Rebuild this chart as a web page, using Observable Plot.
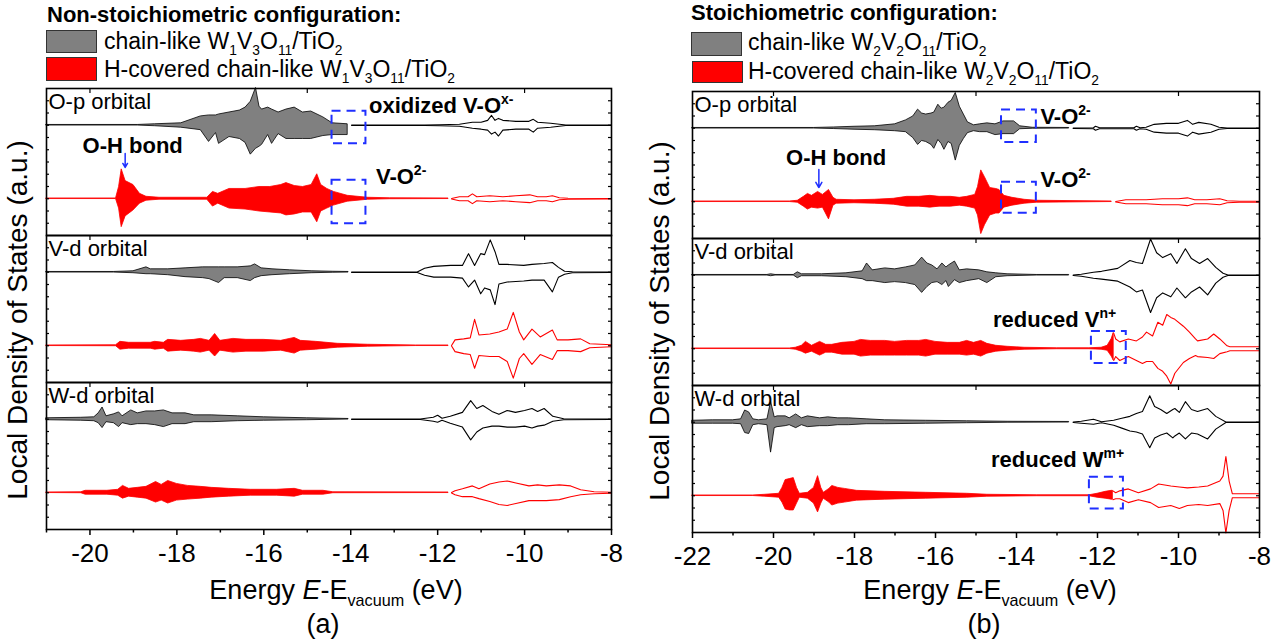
<!DOCTYPE html>
<html><head><meta charset="utf-8">
<script src="https://cdn.jsdelivr.net/npm/d3@7"></script>
<script src="https://cdn.jsdelivr.net/npm/@observablehq/plot@0.6"></script>
<style>
body{margin:0;background:#fff;font-family:"Liberation Sans",Arial,sans-serif;}
#root{position:relative;width:1281px;height:644px;overflow:hidden;background:#fff;}
#root svg{position:absolute;top:0;overflow:visible;}
.abs{position:absolute;white-space:nowrap;color:#000;line-height:1;}
.ttl{font-size:22px;font-weight:bold;}
.leg{font-size:23px;line-height:0.8;}
.sb{font-size:0.6em;position:relative;top:0.42em;line-height:0.8;}
.sw{position:absolute;box-sizing:border-box;border:1px solid #333;}
.ax{font-size:27px;line-height:0.9;}
.yt{font-size:28px;transform:translate(-50%,-50%) rotate(-90deg);}
</style></head>
<body><div id="root"></div>
<script>
// ---------- categories ----------
const orbitals = ["O-p", "V-d", "W-d"];
const orbitalLabels = ["O-p orbital", "V-d orbital", "W-d orbital"];
const xMajorA = [-20, -18, -16, -14, -12, -10, -8];
const xMinorA = [-21, -19, -17, -15, -13, -11, -9];
const xMajorB = [-22, -20, -18, -16, -14, -12, -10, -8];
const xMinorB = [-21, -19, -17, -15, -13, -11, -9];
const topTicks = [-20, -15, -10];
const yTickVals = [-62.5, -50, -37.5, -25, -12.5, 0, 12.5, 25, 37.5, 50, 62.5];

// ---------- panel (a): [E, spin-up, spin-down] ----------
const aOpGrayOcc = [[-21,0.3,0.3],[-18.9,0.3,0.3],[-18.5,1,1],[-17.9,2,2.5],[-17.45,9,5],[-17.26,10,17],[-17.1,10,8],[-17.03,11,19],[-16.79,13,12],[-16.55,15,14],[-16.42,18,18],[-16.3,24,30],[-16.18,38,24],[-16.1,19,22],[-16.04,16,20],[-15.9,18,10],[-15.81,16,19],[-15.66,13,9],[-15.48,16,14],[-15.29,18,14],[-15.1,13,14],[-14.91,14,14],[-14.63,8,11],[-14.42,2,10],[-14.07,1,10]];
const aOpGrayUnocc = [[-13.98,0.3,0.3],[-12.3,0.3,0.3],[-11.95,0.5,0.5],[-11.5,1,1],[-11.2,3,3],[-11.0,3,4],[-10.85,5,5],[-10.76,10,9],[-10.68,5,7],[-10.6,7,11],[-10.5,5,5],[-10.2,4,4],[-9.9,4,4],[-9.8,6,7],[-9.7,3,3],[-9.4,2,2],[-9.05,0.3,0.3],[-8,0.3,0.3]];
const aOpRedOcc = [[-21,0.3,0.3],[-19.4,0.3,0.3],[-19.33,12,10],[-19.27,30,29],[-19.18,18,18],[-19.0,14,12],[-18.85,5,5],[-18.7,2,2],[-18.4,1,1],[-17.3,1,1],[-17.17,7,8],[-17.05,5,5],[-16.79,10,10],[-16.42,10,11],[-16.1,12,13],[-15.85,12,14],[-15.6,14,15],[-15.48,16,17],[-15.29,13,16],[-15.1,12,14],[-14.9,14,14],[-14.77,25,24],[-14.68,14,13],[-14.54,10,10],[-14.39,7,7],[-14.07,3,3],[-13.6,1,1],[-13.1,0.5,0.5],[-11.75,0.3,0.3]];
const aOpRedUnocc = [[-11.68,0.3,0.3],[-11.5,2,2],[-11.3,2,2],[-11.2,5,5],[-11.1,2,2],[-10.8,3,3],[-10.5,2,2],[-10.2,3,3],[-9.88,4,4],[-9.7,2,2],[-9.5,2,2],[-9.36,3,3],[-9.2,1,1],[-9,0.5,0.5],[-8,0.3,0.3]];
const aVdGrayOcc = [[-21,0.3,0.3],[-19.45,0.3,0.3],[-19.0,1,1],[-18.7,5,2],[-18.6,3,2],[-18.2,3,3],[-17.8,4,5],[-17.4,5,6],[-17.25,5,7],[-17.03,5,11],[-16.9,5,6],[-16.6,5,6],[-16.3,6,9],[-16.2,8,6],[-16.05,4,4],[-15.8,3,3],[-15.4,2,2],[-14.9,1,1],[-14.4,0.5,0.5],[-14.05,0.3,0.3]];
const aVdGrayUnocc = [[-13.98,0.3,0.3],[-12.47,0.3,0.3],[-12.3,4,3],[-12.09,6,5],[-11.7,7,5],[-11.43,7,6],[-11.29,19,15],[-11.15,7,8],[-11.01,19,22],[-10.92,18,16],[-10.79,33,18],[-10.68,21,33],[-10.59,8,12],[-10.4,8,10],[-10.02,7,9],[-9.83,8,8],[-9.55,9,8],[-9.36,10,20],[-9.22,5,5],[-9.08,1,2],[-8.9,0.5,0.5],[-8,0.3,0.3]];
const aVdRedOcc = [[-21,0.3,0.3],[-19.4,0.5,0.5],[-19.3,4,4],[-19.1,3,3],[-18.6,3,3],[-18.5,4,4],[-18.3,3,3],[-18.2,6,6],[-17.9,5,5],[-17.6,6,6],[-17.45,7,7],[-17.25,5,5],[-17.12,12,11],[-17.0,5,5],[-16.7,7,7],[-16.4,6,6],[-16.0,6,6],[-15.6,5,5],[-15.29,8,8],[-15.15,5,5],[-14.8,4,4],[-14.3,2,2],[-13.6,1,1],[-12.5,0.3,0.3],[-11.75,0.3,0.3]];
const aVdRedUnocc = [[-11.68,0.3,0.3],[-11.6,6,6],[-11.4,7,8],[-11.25,8,9],[-11.15,27,23],[-11.05,11,10],[-10.8,12,11],[-10.59,14,11],[-10.4,17,16],[-10.26,34,33],[-10.12,14,13],[-10.02,6,8],[-9.83,17,19],[-9.64,9,9],[-9.36,16,14],[-9.25,6,5],[-9.0,6,5],[-8.71,7,6],[-8.5,2,2],[-8,1,1]];
const aWdGrayOcc = [[-21,1,1],[-20.2,1.5,1.5],[-19.9,2,2],[-19.8,6,4],[-19.71,12,9],[-19.62,3,3],[-19.45,5,4],[-19.33,7,8],[-19.25,3,4],[-19.05,9,6],[-18.9,6,5],[-18.7,8,5],[-18.5,8,6],[-18.3,9,8],[-18.1,6,5],[-17.8,6,5],[-17.6,4,3],[-17.2,4,3],[-16.6,3,2],[-16.0,2,1.5],[-15.0,1,1],[-14.05,0.3,0.3]];
const aWdGrayUnocc = [[-13.98,0.3,0.3],[-12.4,0.3,0.3],[-12.1,2,2],[-12.0,4,3],[-11.9,1,1],[-11.71,3,4],[-11.43,7,8],[-11.24,19,21],[-11.1,11,13],[-10.96,14,9],[-10.75,8,7],[-10.59,5,7],[-10.4,9,8],[-10.21,7,8],[-10.0,9,7],[-9.83,11,9],[-9.7,8,7],[-9.55,11,6],[-9.35,3,2],[-9.1,0.5,0.5],[-8,0.3,0.3]];
const aWdRedOcc = [[-21,0.3,0.3],[-20.2,0.5,0.5],[-20.1,2,2],[-19.6,2,2],[-19.35,3,3],[-19.24,7,6],[-19.1,4,4],[-18.9,5,5],[-18.7,6,6],[-18.48,11,10],[-18.35,8,8],[-18.2,12,11],[-18.0,9,8],[-17.75,7,7],[-17.45,6,6],[-17.2,5,5],[-16.8,4,4],[-16.3,3,3],[-15.7,3,3],[-15.29,4,4],[-15.1,2,2],[-14.63,2,2],[-14.4,0.5,0.5],[-11.75,0.3,0.3]];
const aWdRedUnocc = [[-11.68,0.3,0.3],[-11.6,2,2],[-11.43,4,4],[-11.2,7,4],[-11.05,4,6],[-10.8,9,9],[-10.59,11,12],[-10.4,12,13],[-10.2,10,11],[-9.9,7,8],[-9.7,8,8],[-9.5,7,8],[-9.2,8,7],[-8.94,7,4],[-8.71,3,2],[-8.4,1,1],[-8,0.5,0.5]];

// ---------- panel (b): [E, spin-up, spin-down] ----------
const bOpGrayOcc = [[-22,0.3,0.3],[-19,0.3,0.3],[-18.5,0.8,0.8],[-18,1.5,1.5],[-17.5,2,2],[-17,4,3],[-16.73,8,4],[-16.55,12,10],[-16.43,19,17],[-16.33,15,13],[-16.23,14,14],[-16.1,15,17],[-16.03,16,21],[-15.93,24,12],[-15.85,20,16],[-15.78,21,22],[-15.68,26,14],[-15.6,28,16],[-15.5,36,33],[-15.4,22,18],[-15.3,14,11],[-15.2,6,5],[-15.05,3,3],[-14.9,4,4],[-14.72,5,4],[-14.52,4,7],[-14.32,7,6],[-14.06,7,6],[-13.91,2,1],[-13.6,0.5,0.5],[-12.7,0.3,0.3]];
const bOpGrayUnocc = [[-12.6,0.3,0.3],[-12.1,0.5,0.5],[-12.05,2,2],[-11.95,0.5,0.5],[-11.1,0.5,0.5],[-11.04,2,2],[-10.95,0.5,0.5],[-10.8,1,1],[-10.6,4,4],[-10.3,5,5],[-10,5,5],[-9.78,8,8],[-9.65,4,4],[-9.5,6,6],[-9.2,4,4],[-9,1,1],[-8.8,0.3,0.3],[-8,0.3,0.3]];
const bOpRedOcc = [[-22,0.3,0.3],[-19.6,0.3,0.3],[-19.4,1,1],[-19.25,5,5],[-19.15,8,8],[-19.05,6,6],[-18.9,10,7],[-18.78,7,6],[-18.63,12,18],[-18.52,4,4],[-18.44,2,2],[-18,1.5,1.5],[-17.5,2,2],[-17.03,3,3],[-16.7,5,5],[-16.4,5,5],[-16.13,6,6],[-15.9,5,5],[-15.62,5,5],[-15.4,4,4],[-15.22,5,5],[-15.02,7,7],[-14.95,15,14],[-14.87,32,33],[-14.78,25,24],[-14.65,14,14],[-14.5,13,12],[-14.42,12,12],[-14.3,6,6],[-14.1,4,4],[-13.8,2,2],[-13.5,1,1],[-11.65,0.3,0.3]];
const bOpRedUnocc = [[-11.55,0.3,0.3],[-11.3,2,2],[-10.8,2,2],[-10.4,3,3],[-10,3,3],[-9.78,4,4],[-9.6,2,2],[-9.3,2,2],[-8.98,3,3],[-8.8,1,1],[-8.5,0.5,0.5],[-8,0.5,0.5]];
const bVdGrayOcc = [[-22,0.3,0.3],[-20.15,0.3,0.3],[-20.06,1,1],[-19.95,0.3,0.3],[-19.5,0.3,0.3],[-19.4,3,3],[-19.3,1,1],[-18.8,1,1],[-18.2,2,2],[-17.8,4,4],[-17.69,12,6],[-17.55,5,6],[-17.24,7,8],[-17.0,6,7],[-16.73,8,8],[-16.5,10,10],[-16.33,18,18],[-16.2,12,12],[-16.08,10,8],[-15.95,6,7],[-15.83,12,10],[-15.73,8,6],[-15.67,10,12],[-15.52,14,5],[-15.4,5,8],[-15.22,6,6],[-14.92,5,4],[-14.72,3,8],[-14.5,2,2],[-14.22,1,1],[-13.5,0.3,0.3],[-12.7,0.3,0.3]];
const bVdGrayUnocc = [[-12.6,0.3,0.3],[-12.4,1,1],[-12.1,3,3],[-11.9,4,4],[-11.5,7,6],[-11.2,15,12],[-11.04,13,17],[-10.89,12,15],[-10.69,37,38],[-10.54,23,23],[-10.39,18,18],[-10.19,22,22],[-10.04,12,13],[-9.83,27,23],[-9.68,17,17],[-9.48,12,12],[-9.28,17,20],[-9.08,8,8],[-8.9,2,2],[-8.78,0.3,0.3],[-8,0.3,0.3]];
const bVdRedOcc = [[-22,0.3,0.3],[-19.6,0.3,0.3],[-19.45,1,1],[-19.3,3,3],[-19.2,7,5],[-19.05,3,3],[-18.85,7,7],[-18.7,4,4],[-18.55,4,4],[-18.3,6,6],[-18.0,7,6],[-17.84,9,8],[-17.6,8,7],[-17.24,8,7],[-17.0,7,7],[-16.7,8,7],[-16.4,8,7],[-16.23,9,8],[-16.0,7,6],[-15.7,6,6],[-15.4,6,6],[-15.22,8,7],[-15.05,6,6],[-14.87,8,8],[-14.72,5,5],[-14.5,3,3],[-14.22,2,2],[-13.8,1,1],[-13.0,0.5,0.5],[-12.2,0.5,0.5],[-11.9,1,1],[-11.75,3,2],[-11.65,10,8],[-11.6,16,12]];
const bVdRedUnocc = [[-11.6,16,12],[-11.55,10,8],[-11.45,7,12],[-11.24,10,8],[-11.04,8,12],[-10.89,12,15],[-10.79,17,13],[-10.64,13,13],[-10.51,27,20],[-10.39,24,23],[-10.29,35,28],[-10.19,32,36],[-10.09,30,25],[-9.88,23,14],[-9.73,17,10],[-9.58,10,7],[-9.53,8,8],[-9.28,10,9],[-9.13,15,10],[-8.98,10,5],[-8.8,3,3],[-8.73,2,2],[-8,2,2]];
const bWdGrayOcc = [[-22,1.5,1.5],[-21.5,2,1.5],[-21,2,1.5],[-20.8,3,2],[-20.7,12,11],[-20.6,10,12],[-20.5,3,3],[-20.36,2,2],[-20.15,3,3],[-20.06,21,31],[-19.97,5,6],[-19.9,6,5],[-19.7,6,4],[-19.6,4,3],[-19.44,8,6],[-19.3,4,3],[-19.15,6,5],[-18.85,4,4],[-18.65,5,4],[-18.4,4,3],[-18.14,4,3],[-17.7,3,2],[-17.24,2,2],[-16.23,1.5,1.5],[-15.22,1,1],[-14.22,0.5,0.5],[-12.7,0.3,0.3]];
const bWdGrayUnocc = [[-12.6,0.3,0.3],[-12.4,1,1],[-12.1,3,2],[-11.9,0.5,0.5],[-11.6,2,3],[-11.4,4,6],[-11.2,6,9],[-11.04,9,10],[-10.89,11,12],[-10.71,27,26],[-10.59,16,16],[-10.44,13,13],[-10.29,9,11],[-10.14,13,16],[-10.09,14,14],[-9.98,10,11],[-9.83,21,17],[-9.68,13,11],[-9.53,11,12],[-9.28,14,17],[-9.08,6,7],[-8.83,0.3,0.3],[-8,0.3,0.3]];
const bWdRedOcc = [[-22,0.3,0.3],[-20.5,0.3,0.3],[-20.2,1,1],[-19.86,2,2],[-19.78,8,7],[-19.7,16,14],[-19.6,17,15],[-19.5,18,15],[-19.42,8,8],[-19.35,2,2],[-19.15,3,3],[-19.0,8,8],[-18.9,20,17],[-18.82,8,8],[-18.76,3,3],[-18.62,7,7],[-18.55,10,10],[-18.4,8,8],[-18.24,7,7],[-17.94,5,5],[-17.24,4,4],[-16.23,3,3],[-15.22,2,2],[-14.72,1,1],[-13.5,0.5,0.5],[-12.2,0.5,0.5],[-12.0,2,2],[-11.8,4,3],[-11.65,5,4],[-11.62,5,4]];
const bWdRedUnocc = [[-11.62,5,4],[-11.55,3,3],[-11.45,5,3],[-11.24,7,7],[-10.99,3,4],[-10.69,7,7],[-10.49,12,12],[-10.19,10,10],[-9.98,9,13],[-9.78,8,10],[-9.5,9,9],[-9.28,10,10],[-8.98,15,8],[-8.9,20,15],[-8.83,40,38],[-8.75,15,15],[-8.67,2,2],[-8,2,2]];

// ---------- annotations (data coordinates) ----------
const annotA = [
  {orb: "O-p", E: -13.58, y: 57.5, label: "oxidized V-O^{x-}"},
  {orb: "O-p", E: -13.42, y: -14.8, label: "V-O^{2-}"},
  {orb: "O-p", E: -20.17, y: 16.8, label: "O-H bond"}
];
const annotB = [
  {orb: "O-p", E: -13.41, y: 49, label: "V-O^{2-}"},
  {orb: "O-p", E: -13.41, y: -14.8, label: "V-O^{2-}"},
  {orb: "O-p", E: -19.69, y: 7.7, label: "O-H bond"},
  {orb: "V-d", E: -14.58, y: -7.7, label: "reduced V^{n+}"},
  {orb: "W-d", E: -14.63, y: -0.5, label: "reduced W^{m+}"}
];
const boxesA = [
  {orb: "O-p", x1: -14.43, x2: -13.65, y1: 18.5, y2: 51.8},
  {orb: "O-p", x1: -14.43, x2: -13.65, y1: -63.1, y2: -18.5}
];
const boxesB = [
  {orb: "O-p", x1: -14.37, x2: -13.51, y1: 22.9, y2: 56.2},
  {orb: "O-p", x1: -14.37, x2: -13.51, y1: -49.2, y2: -17.5},
  {orb: "V-d", x1: -12.15, x2: -11.29, y1: -52.5, y2: -19.8},
  {orb: "W-d", x1: -12.2, x2: -11.36, y1: -50.9, y2: -18.5}
];
const arrowsA = [{orb: "O-p", E: -19.19, y1: 8.7, y2: -5.6}];
const arrowsB = [{orb: "O-p", E: -18.88, y1: -4.6, y2: -23}];

const BLUE = "#1f2fff";
const GRAY = "#808080";
const RED = "#ff0000";
const baseOf = {gray: 37.5, red: -37.5};

function rows(sets, part) {
  const out = [];
  for (const orb of orbitals) {
    for (const cfg of ["gray", "red"]) {
      const arr = sets[orb][cfg][part];
      const b = baseOf[cfg];
      for (const [E, up, dn] of arr) out.push({orb, cfg, E, hi: b + up, lo: b - dn});
    }
  }
  return out;
}

function panel(opts) {
  const occ = rows(opts.sets, 0), un = rows(opts.sets, 1);
  const g = d => d.cfg === "gray", r = d => d.cfg === "red";
  const labels = orbitals.map((orb, i) => ({orb, label: orbitalLabels[i]}));
  const tickF = () => "";
  return Plot.plot({
    width: 640, height: 644,
    marginLeft: opts.ml, marginRight: opts.mr, marginTop: opts.mt, marginBottom: opts.mb,
    x: {domain: opts.domain},
    y: {domain: [-75, 75]},
    fy: {domain: orbitals, padding: 0, axis: null},
    style: {fontFamily: "'Liberation Sans', Arial, sans-serif", background: "transparent", color: "#000"},
    marks: [
      Plot.areaY(occ.filter(g), {x: "E", y1: "lo", y2: "hi", fy: "orb", fill: GRAY, stroke: "#000", strokeWidth: 0.8}),
      Plot.lineY(un.filter(g), {x: "E", y: "hi", fy: "orb", stroke: "#000", strokeWidth: 1.1}),
      Plot.lineY(un.filter(g), {x: "E", y: "lo", fy: "orb", stroke: "#000", strokeWidth: 1.1}),
      Plot.areaY(occ.filter(r), {x: "E", y1: "lo", y2: "hi", fy: "orb", fill: RED, stroke: RED, strokeWidth: 0.8}),
      Plot.lineY(un.filter(r), {x: "E", y: "hi", fy: "orb", stroke: RED, strokeWidth: 1.1}),
      Plot.lineY(un.filter(r), {x: "E", y: "lo", fy: "orb", stroke: RED, strokeWidth: 1.1}),
      Plot.rect(opts.boxes, {x1: "x1", x2: "x2", y1: "y1", y2: "y2", fy: "orb", fill: "none", stroke: BLUE, strokeWidth: 2, strokeDasharray: "9,6"}),
      Plot.arrow(opts.arrows, {x1: "E", x2: "E", y1: "y1", y2: "y2", fy: "orb", stroke: BLUE, strokeWidth: 1.5, headLength: 7}),
      Plot.text(labels, {fy: "orb", text: "label", frameAnchor: "top-left", textAnchor: "start", lineAnchor: "top", dx: 2, dy: 5, fontSize: 22}),
      Plot.text(opts.annot, {x: "E", y: "y", fy: "orb", text: "label", textAnchor: "start", fontWeight: "bold", fontSize: 22}),
      Plot.frame({stroke: "#000", strokeWidth: 1.6}),
      Plot.axisX({anchor: "bottom", ticks: opts.major, tickSize: 6, tickPadding: 8, fontSize: 26, strokeWidth: 1.5, label: null, tickFormat: d => String(d)}),
      Plot.axisX({anchor: "bottom", ticks: opts.minor, tickSize: 3.5, strokeWidth: 1.5, label: null, tickFormat: tickF}),
      Plot.axisX({anchor: "top", ticks: topTicks, tickSize: -4, strokeWidth: 1.2, label: null, tickFormat: tickF, facetAnchor: null}),
      Plot.axisY({anchor: "left", ticks: yTickVals, tickSize: -3, strokeWidth: 1.2, label: null, tickFormat: tickF}),
      Plot.axisY({anchor: "right", ticks: yTickVals, tickSize: -4, strokeWidth: 1.2, label: null, tickFormat: tickF})
    ]
  });
}

function richify(svg) {
  svg.querySelectorAll("text").forEach(t => {
    const s = t.textContent;
    if (!s.includes("^{") || t.querySelector("tspan")) return;
    t.textContent = "";
    const parts = s.split(/(\^\{[^}]*\})/).filter(p => p.length);
    for (const p of parts) {
      const ts = document.createElementNS("http://www.w3.org/2000/svg", "tspan");
      if (p.startsWith("^{")) {
        ts.textContent = p.slice(2, -1);
        ts.setAttribute("font-size", "14");
        ts.setAttribute("dy", "-9");
      } else ts.textContent = p;
      t.appendChild(ts);
    }
  });
}

const setsA = {
  "O-p": {gray: [aOpGrayOcc, aOpGrayUnocc], red: [aOpRedOcc, aOpRedUnocc]},
  "V-d": {gray: [aVdGrayOcc, aVdGrayUnocc], red: [aVdRedOcc, aVdRedUnocc]},
  "W-d": {gray: [aWdGrayOcc, aWdGrayUnocc], red: [aWdRedOcc, aWdRedUnocc]}
};
const setsB = {
  "O-p": {gray: [bOpGrayOcc, bOpGrayUnocc], red: [bOpRedOcc, bOpRedUnocc]},
  "V-d": {gray: [bVdGrayOcc, bVdGrayUnocc], red: [bVdRedOcc, bVdRedUnocc]},
  "W-d": {gray: [bWdGrayOcc, bWdGrayUnocc], red: [bWdRedOcc, bWdRedUnocc]}
};

const root = document.getElementById("root");
const svgA = panel({sets: setsA, domain: [-21, -8], major: xMajorA, minor: xMinorA, annot: annotA, boxes: boxesA, arrows: arrowsA, ml: 46, mr: 29, mt: 88, mb: 115});
const svgB = panel({sets: setsB, domain: [-22, -8], major: xMajorB, minor: xMinorB, annot: annotB, boxes: boxesB, arrows: arrowsB, ml: 52, mr: 21, mt: 90, mb: 112});
svgA.style.left = "0px";
svgB.style.left = "640px";
root.appendChild(svgA);
root.appendChild(svgB);
richify(svgA); richify(svgB);

const html = `
<div class="abs ttl" style="left:47px;top:4px">Non-stoichiometric configuration:</div>
<div class="sw" style="left:46px;top:30px;width:51px;height:23px;background:${GRAY}"></div>
<div class="sw" style="left:46px;top:57px;width:51px;height:24px;background:${RED}"></div>
<div class="abs leg" style="left:104px;top:32px">chain-like W<span class="sb">1</span>V<span class="sb">3</span>O<span class="sb">11</span>/TiO<span class="sb">2</span></div>
<div class="abs leg" style="left:104px;top:60px">H-covered chain-like W<span class="sb">1</span>V<span class="sb">3</span>O<span class="sb">11</span>/TiO<span class="sb">2</span></div>
<div class="abs ttl" style="left:691px;top:2px">Stoichiometric configuration:</div>
<div class="sw" style="left:691px;top:32px;width:51px;height:24px;background:${GRAY}"></div>
<div class="sw" style="left:692px;top:61px;width:51px;height:22px;background:${RED}"></div>
<div class="abs leg" style="left:748px;top:33px">chain-like W<span class="sb">2</span>V<span class="sb">2</span>O<span class="sb">11</span>/TiO<span class="sb">2</span></div>
<div class="abs leg" style="left:748px;top:62px">H-covered chain-like W<span class="sb">2</span>V<span class="sb">2</span>O<span class="sb">11</span>/TiO<span class="sb">2</span></div>
<div class="abs yt" style="left:18px;top:320px">Local Density of States (a.u.)</div>
<div class="abs yt" style="left:660px;top:321px">Local Density of States (a.u.)</div>
<div class="abs ax" style="left:336px;top:578px;transform:translateX(-50%)">Energy <i>E</i>-E<span class="sb">vacuum</span> (eV)</div>
<div class="abs ax" style="left:990px;top:578px;transform:translateX(-50%)">Energy <i>E</i>-E<span class="sb">vacuum</span> (eV)</div>
<div class="abs ax" style="left:323px;top:612px;transform:translateX(-50%)">(a)</div>
<div class="abs ax" style="left:984px;top:612px;transform:translateX(-50%)">(b)</div>`;
root.insertAdjacentHTML("beforeend", html);
</script>
</body></html>
